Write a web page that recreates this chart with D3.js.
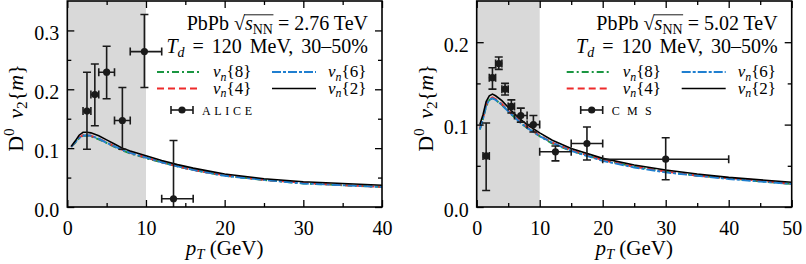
<!DOCTYPE html>
<html>
<head>
<meta charset="utf-8">
<script src="https://cdn.jsdelivr.net/npm/d3@7"></script>
<style>
body { margin: 0; background: #fff; }
svg text, svg tspan { font-family: "Liberation Serif", serif !important; }
</style>
</head>
<body>
<svg id="chart" width="806" height="264" font-family="Liberation Serif"></svg>
<script>
// ---- data ----
// left panel: PbPb 2.76 TeV
const leftPt = [0.5, 1, 1.5, 2, 2.5, 3, 4, 5, 6, 7, 8, 10, 12, 14, 16, 18, 20, 25, 30, 35, 40];
const leftV2 = [0.103, 0.112, 0.122, 0.127, 0.127, 0.126, 0.121, 0.114, 0.107, 0.100, 0.095, 0.087, 0.079, 0.072, 0.066, 0.061, 0.056, 0.048, 0.043, 0.040, 0.037];
const leftV4 = [0.102, 0.110, 0.118, 0.122, 0.122, 0.121, 0.116, 0.110, 0.103, 0.097, 0.092, 0.084, 0.076, 0.069, 0.063, 0.058, 0.054, 0.046, 0.041, 0.037, 0.034];
const leftV6 = [0.102, 0.110, 0.117, 0.121, 0.122, 0.121, 0.116, 0.109, 0.103, 0.097, 0.092, 0.084, 0.076, 0.069, 0.063, 0.058, 0.053, 0.046, 0.040, 0.037, 0.034];
const leftV8 = [0.102, 0.109, 0.117, 0.121, 0.121, 0.120, 0.115, 0.109, 0.102, 0.096, 0.091, 0.083, 0.076, 0.069, 0.063, 0.058, 0.053, 0.046, 0.040, 0.037, 0.034];

const alicePt   = [2.5, 3.5, 5, 7, 9.8, 13.5];
const alicePtLo = [2, 3, 4, 6, 8, 12];
const alicePtHi = [3, 4, 6, 8, 12, 16];
const aliceV    = [0.163, 0.191, 0.229, 0.147, 0.264, 0.014];
const aliceVLo  = [0.098, 0.138, 0.184, 0.098, 0.203, -0.08];
const aliceVHi  = [0.229, 0.243, 0.273, 0.203, 0.327, 0.113];

// right panel: PbPb 5.02 TeV
const rightPt = [0.5, 1, 1.5, 2, 2.5, 3, 4, 5, 6, 7, 8, 10, 12, 15, 20, 25, 30, 35, 40, 45, 50];
const rightV2 = [0.100, 0.112, 0.128, 0.135, 0.137, 0.135, 0.129, 0.121, 0.113, 0.106, 0.100, 0.090, 0.081, 0.071, 0.059, 0.051, 0.045, 0.040, 0.036, 0.033, 0.030];
const rightV4 = [0.095, 0.108, 0.124, 0.131, 0.133, 0.131, 0.125, 0.117, 0.110, 0.103, 0.097, 0.087, 0.078, 0.069, 0.057, 0.049, 0.043, 0.038, 0.035, 0.032, 0.028];
const rightV6 = [0.094, 0.107, 0.123, 0.130, 0.132, 0.130, 0.124, 0.116, 0.109, 0.102, 0.096, 0.086, 0.078, 0.068, 0.056, 0.048, 0.042, 0.038, 0.034, 0.031, 0.028];
const rightV8 = [0.094, 0.107, 0.122, 0.130, 0.132, 0.130, 0.124, 0.116, 0.109, 0.102, 0.096, 0.086, 0.077, 0.068, 0.057, 0.049, 0.043, 0.038, 0.035, 0.031, 0.028];

const cmsPt   = [1.5, 2.5, 3.5, 4.5, 5.5, 7, 9, 12.5, 17.5, 30];
const cmsPtLo = [1, 2, 3, 4, 5, 6, 8, 10, 15, 20];
const cmsPtHi = [2, 3, 4, 5, 6, 8, 10, 15, 20, 40];
const cmsV    = [0.062, 0.157, 0.174, 0.143, 0.122, 0.111, 0.100, 0.067, 0.077, 0.058];
const cmsVLo  = [0.020, 0.143, 0.167, 0.136, 0.114, 0.103, 0.091, 0.056, 0.057, 0.033];
const cmsVHi  = [0.102, 0.169, 0.182, 0.150, 0.130, 0.120, 0.111, 0.074, 0.097, 0.084];

const leftXTicks = [0, 10, 20, 30, 40];
const leftYTicks = [0.0, 0.1, 0.2, 0.3];
const rightXTicks = [0, 10, 20, 30, 40, 50];
const rightYTicks = [0.0, 0.1, 0.2];

// ---- styles ----
const font = "Liberation Serif";
const fs = 20;
const yTop = 1, yBottom = 207;
const curveStyles = [
    { key: "v8", label: "8", color: "#1a9641", dash: "7,3,2,3" },
    { key: "v4", label: "4", color: "#ee2b2b", dash: "7,4" },
    { key: "v6", label: "6", color: "#1f7fd0", dash: "9,2,3,2" },
    { key: "v2", label: "2", color: "#000", dash: null },
];
const dataColor = "#1a1a1a";

const panels = [
    {
        id: "L", x0: 67.3, x1: 382, xMax: 40, yMax: 0.35, xTicks: leftXTicks, yTicks: leftYTicks,
        pt: leftPt, curves: { v2: leftV2, v4: leftV4, v6: leftV6, v8: leftV8 },
        exp: { pt: alicePt, lo: alicePtLo, hi: alicePtHi, v: aliceV, vlo: aliceVLo, vhi: aliceVHi },
        expName: "ALICE", expLen: 50, energy: "2.76",
    },
    {
        id: "R", x0: 476.7, x1: 791.7, xMax: 50, yMax: 0.25, xTicks: rightXTicks, yTicks: rightYTicks,
        pt: rightPt, curves: { v2: rightV2, v4: rightV4, v6: rightV6, v8: rightV8 },
        exp: { pt: cmsPt, lo: cmsPtLo, hi: cmsPtHi, v: cmsV, vlo: cmsVLo, vhi: cmsVHi },
        expName: "CMS", expLen: 40, energy: "5.02",
    },
];

const svg = d3.select("#chart");

// rich text: parts {t, i: italic, s: shift px (down positive), z: size factor}
function rich(text, parts, size) {
    let cur = 0;
    text.attr("font-family", font);
    parts.forEach((p) => {
        const shift = p.s || 0;
        const ts = text.append("tspan").text(p.t).attr("dy", shift - cur);
        cur = shift;
        if (p.i) ts.attr("font-style", "italic");
        if (p.z) ts.attr("font-size", size * p.z);
    });
    return text;
}

panels.forEach((P) => {
    const x = d3.scaleLinear().domain([0, P.xMax]).range([P.x0, P.x1]);
    const y = d3.scaleLinear().domain([0, P.yMax]).range([yBottom, yTop]);
    const g = svg.append("g");

    g.append("clipPath").attr("id", "clip" + P.id)
        .append("rect").attr("x", P.x0).attr("y", yTop).attr("width", P.x1 - P.x0).attr("height", yBottom - yTop);

    // shaded band pT < 10
    g.append("rect")
        .attr("x", x(0)).attr("y", yTop)
        .attr("width", x(10) - x(0)).attr("height", yBottom - yTop)
        .attr("fill", "#d9d9d9");

    const plot = g.append("g").attr("clip-path", `url(#clip${P.id})`);

    // curves
    const line = d3.line().x((d) => x(d[0])).y((d) => y(d[1]));
    curveStyles.forEach((c) => {
        const pts = P.pt.map((p, i) => [p, P.curves[c.key][i]]);
        plot.append("path")
            .attr("d", line(pts))
            .attr("fill", "none")
            .attr("stroke", c.color)
            .attr("stroke-width", c.key == "v2" ? 1.6 : 1.9)
            .attr("stroke-dasharray", c.dash);
    });

    // experimental points
    const E = P.exp;
    const cap = 4;
    E.pt.forEach((p, i) => {
        const e = plot.append("g").attr("stroke", dataColor).attr("stroke-width", 1.6);
        const cx = x(p), cy = y(E.v[i]);
        e.append("line").attr("x1", cx).attr("x2", cx).attr("y1", y(E.vlo[i])).attr("y2", y(E.vhi[i]));
        e.append("line").attr("x1", cx - cap).attr("x2", cx + cap).attr("y1", y(E.vlo[i])).attr("y2", y(E.vlo[i]));
        e.append("line").attr("x1", cx - cap).attr("x2", cx + cap).attr("y1", y(E.vhi[i])).attr("y2", y(E.vhi[i]));
        e.append("line").attr("x1", x(E.lo[i])).attr("x2", x(E.hi[i])).attr("y1", cy).attr("y2", cy);
        e.append("line").attr("x1", x(E.lo[i])).attr("x2", x(E.lo[i])).attr("y1", cy - cap).attr("y2", cy + cap);
        e.append("line").attr("x1", x(E.hi[i])).attr("x2", x(E.hi[i])).attr("y1", cy - cap).attr("y2", cy + cap);
        e.append("circle").attr("cx", cx).attr("cy", cy).attr("r", 3.6).attr("fill", dataColor).attr("stroke", "none");
    });

    // axes, ticks inward on all sides
    const xMinor = d3.range(5, P.xMax, 10);
    const yMinor = d3.range(0.05, P.yMax, 0.1);
    const styleAxis = (a) => {
        a.attr("font-family", font).attr("font-size", fs);
        a.select(".domain").remove();
        a.selectAll("line").attr("stroke", "#000").attr("stroke-width", 1.3);
    };

    g.append("g").attr("transform", `translate(0,${yBottom})`)
        .call(d3.axisBottom(x).tickValues(P.xTicks).tickSize(-7).tickPadding(14).tickFormat(d3.format("d")))
        .call(styleAxis);
    g.append("g").attr("transform", `translate(0,${yBottom})`)
        .call(d3.axisBottom(x).tickValues(xMinor).tickSize(-4).tickFormat("")).call(styleAxis);
    g.append("g").attr("transform", `translate(0,${yTop})`)
        .call(d3.axisTop(x).tickValues(P.xTicks).tickSize(-7).tickFormat("")).call(styleAxis);
    g.append("g").attr("transform", `translate(0,${yTop})`)
        .call(d3.axisTop(x).tickValues(xMinor).tickSize(-4).tickFormat("")).call(styleAxis);

    g.append("g").attr("transform", `translate(${P.x0},0)`)
        .call(d3.axisLeft(y).tickValues(P.yTicks).tickSize(-7).tickPadding(8).tickFormat(d3.format(".1f")))
        .call(styleAxis)
        .selectAll("text").attr("dy", "0.45em");
    g.append("g").attr("transform", `translate(${P.x0},0)`)
        .call(d3.axisLeft(y).tickValues(yMinor).tickSize(-4).tickFormat("")).call(styleAxis);
    g.append("g").attr("transform", `translate(${P.x1},0)`)
        .call(d3.axisRight(y).tickValues(P.yTicks).tickSize(-7).tickFormat("")).call(styleAxis);
    g.append("g").attr("transform", `translate(${P.x1},0)`)
        .call(d3.axisRight(y).tickValues(yMinor).tickSize(-4).tickFormat("")).call(styleAxis);

    // frame
    g.append("rect")
        .attr("x", P.x0).attr("y", yTop).attr("width", P.x1 - P.x0).attr("height", yBottom - yTop)
        .attr("fill", "none").attr("stroke", "#000").attr("stroke-width", 1.6);

    // titles
    const tx = P.x1 - 14;
    const t1 = g.append("text").attr("x", tx).attr("y", 30).attr("text-anchor", "end").attr("font-size", fs);
    rich(t1, [{ t: "PbPb " }, { t: "√" }, { t: "s", i: 1 }, { t: "NN", s: 4, z: 0.7 }, { t: ` = ${P.energy} TeV` }], fs);
    // overbar of the square root
    const el = t1.node();
    const a = el.getExtentOfChar(5), b = el.getExtentOfChar(8);
    g.append("line")
        .attr("x1", a.x + a.width - 0.8).attr("x2", b.x + b.width + 0.5)
        .attr("y1", 30 - fs * 0.76).attr("y2", 30 - fs * 0.76)
        .attr("stroke", "#000").attr("stroke-width", 0.9);

    const t2 = g.append("text").attr("x", tx).attr("y", 53).attr("text-anchor", "end")
        .attr("font-size", fs).attr("word-spacing", 3);
    rich(t2, [{ t: "T", i: 1 }, { t: "d", i: 1, s: 4, z: 0.7 }, { t: " = 120 MeV, 30–50%" }], fs);

    // legend
    const cols = [P.x1 - 225, P.x1 - 110];
    const rows = [72, 88.5];
    const legPos = { v8: [0, 0], v4: [0, 1], v6: [1, 0], v2: [1, 1] };
    curveStyles.forEach((c) => {
        const [ci, ri] = legPos[c.key];
        const lx = cols[ci], ly = rows[ri];
        g.append("line")
            .attr("x1", lx).attr("x2", lx + 44).attr("y1", ly).attr("y2", ly)
            .attr("stroke", c.color).attr("stroke-width", c.key == "v2" ? 1.6 : 1.9)
            .attr("stroke-dasharray", c.dash);
        const lt = g.append("text").attr("x", lx + 56).attr("y", ly + 5).attr("font-size", 17);
        rich(lt, [{ t: "v", i: 1 }, { t: "n", i: 1, s: 3.5, z: 0.7 }, { t: `{${c.label}}` }], 17);
    });

    // experiment legend entry
    const mx = P.x1 - 200, my = 110;
    const lg = g.append("g").attr("stroke", dataColor).attr("stroke-width", 1.6);
    lg.append("line").attr("x1", mx - 11).attr("x2", mx + 11).attr("y1", my).attr("y2", my);
    lg.append("line").attr("x1", mx - 11).attr("x2", mx - 11).attr("y1", my - 4).attr("y2", my + 4);
    lg.append("line").attr("x1", mx + 11).attr("x2", mx + 11).attr("y1", my - 4).attr("y2", my + 4);
    lg.append("circle").attr("cx", mx).attr("cy", my).attr("r", 3.6).attr("fill", dataColor).attr("stroke", "none");
    g.append("text").attr("x", mx + 20).attr("y", my + 4.5).attr("font-family", font)
        .attr("font-size", 12).attr("textLength", P.expLen).attr("lengthAdjust", "spacing")
        .text(P.expName);

    // axis labels
    const xl = g.append("text").attr("x", (P.x0 + P.x1) / 2).attr("y", 255)
        .attr("text-anchor", "middle").attr("font-size", 21);
    rich(xl, [{ t: "p", i: 1 }, { t: "T", i: 1, s: 4, z: 0.7 }, { t: " (GeV)" }], 21);

    const yl = g.append("text")
        .attr("transform", `translate(${P.x0 - 44},${(yTop + yBottom) / 2 + 4}) rotate(-90)`)
        .attr("text-anchor", "middle").attr("font-size", 22).attr("word-spacing", 4);
    rich(yl, [{ t: "D" }, { t: "0", s: -9, z: 0.7 }, { t: " " }, { t: "v", i: 1 }, { t: "2", s: 4, z: 0.7 }, { t: "{" }, { t: "m", i: 1 }, { t: "}" }], 22);
});
</script>
</body>
</html>
